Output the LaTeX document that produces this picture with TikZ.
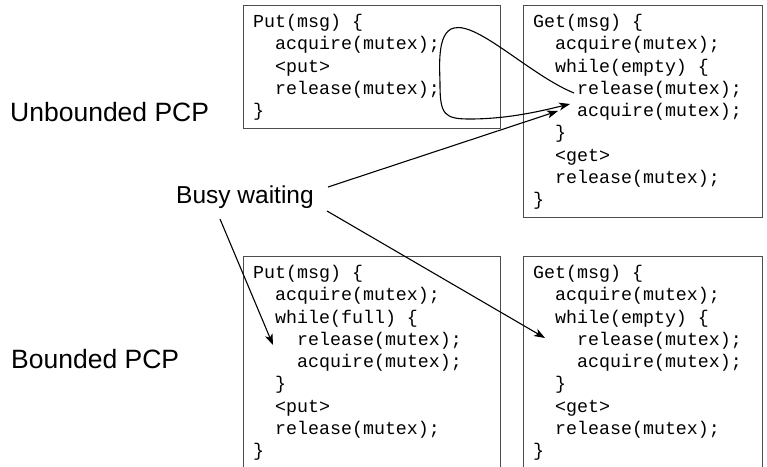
\documentclass[tikz,border=0pt]{standalone}
\usepackage{fontspec}
\setmainfont{Liberation Sans}
\newfontfamily\codefont{Liberation Mono}
\usetikzlibrary{arrows.meta}
\tikzset{
  box/.style={draw=black!70, line width=0.9pt, anchor=north west, inner sep=0pt},
  code/.style={font=\codefont\fontsize{18.3}{22}\selectfont, inner sep=0pt, anchor=base west},
  lbl/.style={font=\fontsize{26.5}{30}\selectfont, inner sep=0pt, anchor=base west},
  arr/.style={line width=1.1pt, -{Stealth[length=11pt,width=8pt,inset=3pt]}},
}
\newcommand\codeblock[4]{%
  \foreach \ind/\txt [count=\i] in {#4} {
    \node[code] (#1\i) at ({#2+11*\ind},{#3+22.25*(\i-1)}) {\txt};
  }%
}
\begin{document}
\begin{tikzpicture}[x=1pt,y=-1pt]
\useasboundingbox (0,0) rectangle (767,466);
\clip (0,0) rectangle (767,466);
% boxes
\node[box, minimum width=257pt, minimum height=123pt] (tl) at (243,5) {};
\node[box, minimum width=239pt, minimum height=212pt] (tr) at (523,5) {};
\node[box, minimum width=257pt, minimum height=240pt] (bl) at (243,256) {};
\node[box, minimum width=239pt, minimum height=240pt] (br) at (523,256) {};
% code
\codeblock{tlc}{253}{27.5}{0/{Put(msg) \{}, 2/{acquire(mutex);}, 2/{<put>}, 2/{release(mutex);}, 0/{\}}}
\codeblock{trc}{533}{27.5}{0/{Get(msg) \{}, 2/{acquire(mutex);}, 2/{while(empty) \{}, 4/{release(mutex);}, 4/{acquire(mutex);}, 2/{\}}, 2/{<get>}, 2/{release(mutex);}, 0/{\}}}
\codeblock{blc}{253}{278.5}{0/{Put(msg) \{}, 2/{acquire(mutex);}, 2/{while(full) \{}, 4/{release(mutex);}, 4/{acquire(mutex);}, 2/{\}}, 2/{<put>}, 2/{release(mutex);}, 0/{\}}}
\codeblock{brc}{533}{278.5}{0/{Get(msg) \{}, 2/{acquire(mutex);}, 2/{while(empty) \{}, 4/{release(mutex);}, 4/{acquire(mutex);}, 2/{\}}, 2/{<get>}, 2/{release(mutex);}, 0/{\}}}
% labels
\node[lbl] (unb) at (10,121) {Unbounded PCP};
\node[lbl] (bnd) at (11,368) {Bounded PCP};
\node[font=\fontsize{24.5}{28}\selectfont, inner sep=0pt, anchor=base] (busy) at (245,203) {Busy waiting};
% connector ends
\coordinate (b1) at (328,187);
\coordinate (b2) at (327,211);
\coordinate (b3) at (220,219);
\coordinate (t1) at (558,111);
\coordinate (t2) at (545,338);
\coordinate (t3) at (273,345);
\coordinate (c0) at (574,93);
\coordinate (c1) at (570,104);
% arrows
\draw[arr] (b1) -- (t1);
\draw[arr] (b2) -- (t2);
\draw[arr] (b3) -- (t3);
\draw[arr] (c0) .. controls (530,75) and (478,22) .. (454,28)
  .. controls (436,32) and (440,70) .. (440,85)
  .. controls (440,115) and (445,119) .. (470,119)
  .. controls (510,119) and (545,110) .. (c1);
\end{tikzpicture}
\end{document}
